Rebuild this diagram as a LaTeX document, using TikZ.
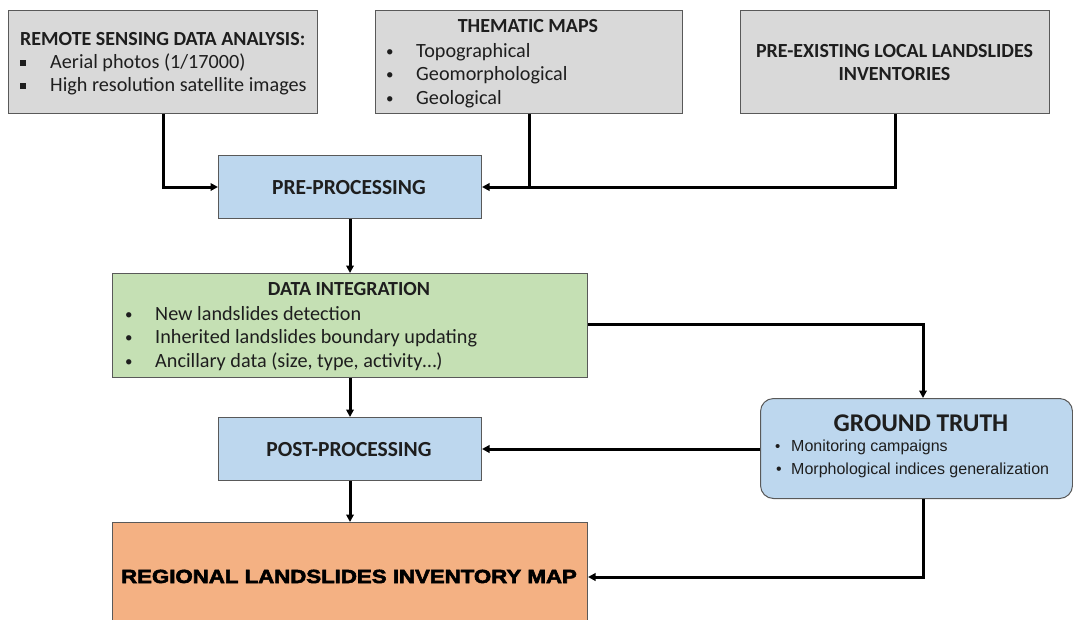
\documentclass[tikz,border=0pt]{standalone}
\usepackage{fontspec}
\setmainfont{Carlito}
\newfontfamily\arialf{Liberation Sans}
\newfontfamily\blackf{Liberation Sans}[BoldFeatures={FakeStretch=1.17,FakeBold=3}]
\usetikzlibrary{arrows.meta}
\definecolor{grayF}{HTML}{D9D9D9}
\definecolor{blueF}{HTML}{BDD7EE}
\definecolor{greenF}{HTML}{C5E0B4}
\definecolor{orangeF}{HTML}{F4B183}
\definecolor{borderC}{HTML}{595959}
\definecolor{txt}{HTML}{1E1E1E}
\tikzset{
  box/.style={draw=borderC, line width=1pt, anchor=north west, inner sep=0pt},
  lbl/.style={inner sep=0pt, text=txt, font=\fontsize{20.2}{24}\selectfont},
  hd/.style={lbl, font=\bfseries\fontsize{20}{24}\selectfont},
  bul/.style={lbl, font=\fontsize{15}{18}\selectfont},
  conn/.style={draw=black, line width=3pt},
  arr/.style={conn, -{Triangle[length=7.5pt,width=7.5pt]}},
}
\newcommand{\sqb}{\rule[2.5pt]{6pt}{6pt}}
\begin{document}
\begin{tikzpicture}[x=1pt,y=-1pt]
\useasboundingbox (0,0) rectangle (1073,619);
% boxes
\node[box, fill=grayF, minimum width=309, minimum height=103] (rs) at (8,10) {};
\node[box, fill=grayF, minimum width=307, minimum height=103] (tm) at (375,10) {};
\node[box, fill=grayF, minimum width=309, minimum height=103] (pe) at (740,10) {};
\node[box, fill=blueF, minimum width=263, minimum height=63] (pre) at (218,155) {};
\node[box, fill=greenF, minimum width=475, minimum height=104] (di) at (112,273) {};
\node[box, fill=blueF, minimum width=263, minimum height=63] (post) at (218,417) {};
\node[box, fill=blueF, rounded corners=13pt, minimum width=312, minimum height=100] (gt) at (760,398) {};
\node[box, fill=orangeF, minimum width=475, minimum height=110] (rm) at (112,522) {};
% texts: remote sensing
\node[hd, anchor=base west] (rsh) at (20,45) {REMOTE SENSING DATA ANALYSIS:};
\node[lbl, anchor=base west] (rsb1) at (20,68) {\sqb};
\node[lbl, anchor=base west] (rsi1) at (50,68) {Aerial photos (1/17000)};
\node[lbl, anchor=base west] (rsb2) at (20,91) {\sqb};
\node[lbl, anchor=base west] (rsi2) at (50,91) {High resolution satellite images};
% thematic
\node[hd, anchor=base] (tmh) at (528,32) {THEMATIC MAPS};
\node[bul, anchor=base west] (tmb1) at (386,56) {•};
\node[lbl, anchor=base west] (tmi1) at (416,57) {Topographical};
\node[bul, anchor=base west] (tmb2) at (386,79) {•};
\node[lbl, anchor=base west] (tmi2) at (416,80) {Geomorphological};
\node[bul, anchor=base west] (tmb3) at (386,103) {•};
\node[lbl, anchor=base west] (tmi3) at (416,104) {Geological};
% pre-existing
\node[hd, anchor=base] (peh1) at (894.5,57) {PRE-EXISTING LOCAL LANDSLIDES};
\node[hd, anchor=base] (peh2) at (894.5,80) {INVENTORIES};
% pre / post
\node[lbl, anchor=base, font=\bfseries\fontsize{21.5}{25}\selectfont] (preh) at (349,194) {PRE-PROCESSING};
\node[lbl, anchor=base, font=\bfseries\fontsize{21.5}{25}\selectfont] (posth) at (349,456) {POST-PROCESSING};
% data integration
\node[hd, anchor=base] (dih) at (349,295) {DATA INTEGRATION};
\node[bul, anchor=base west] (dib1) at (125,319) {•};
\node[lbl, anchor=base west] (dii1) at (155,320) {New landslides detection};
\node[bul, anchor=base west] (dib2) at (125,342) {•};
\node[lbl, anchor=base west] (dii2) at (155,343) {Inherited landslides boundary updating};
\node[bul, anchor=base west] (dib3) at (125,366) {•};
\node[lbl, anchor=base west] (dii3) at (155,367) {Ancillary data (size, type, activity…)};
% ground truth
\node[lbl, anchor=base, font=\bfseries\fontsize{25.5}{28}\selectfont] (gth) at (921,431) {GROUND TRUTH};
\node[lbl, anchor=base west, font=\arialf\fontsize{15}{18}\selectfont] (gtb1) at (775,451) {•};
\node[lbl, anchor=base west, font=\arialf\fontsize{16}{20}\selectfont] (gti1) at (791,451) {Monitoring campaigns};
\node[lbl, anchor=base west, font=\arialf\fontsize{16}{20}\selectfont] (gtb2) at (776,474) {•};
\node[lbl, anchor=base west, font=\arialf\fontsize{16}{20}\selectfont] (gti2) at (791,474) {Morphological indices generalization};
% regional
\node[lbl, anchor=base, text=black, font=\blackf\bfseries\fontsize{19}{22}\selectfont] (rmh) at (349,583) {REGIONAL LANDSLIDES INVENTORY MAP};
% connectors
\draw[arr] (rs.south) |- (pre.west);
\draw[conn] (tm.south) -- (tm.south |- pre.east);
\draw[arr] (pe.south) |- (pre.east);
\draw[arr] (pre.south) -- (di.north);
\draw[arr] ([yshift=1.5pt]di.east) -| ([xshift=6.5pt]gt.north);
\draw[arr] (di.south) -- (post.north);
\draw[arr] (gt.west |- post.east) -- (post.east);
\draw[arr] (post.south) -- (rm.north);
\draw[arr] ([xshift=6.5pt]gt.south) |- ([yshift=0.5pt]rm.east);
\end{tikzpicture}
\end{document}
